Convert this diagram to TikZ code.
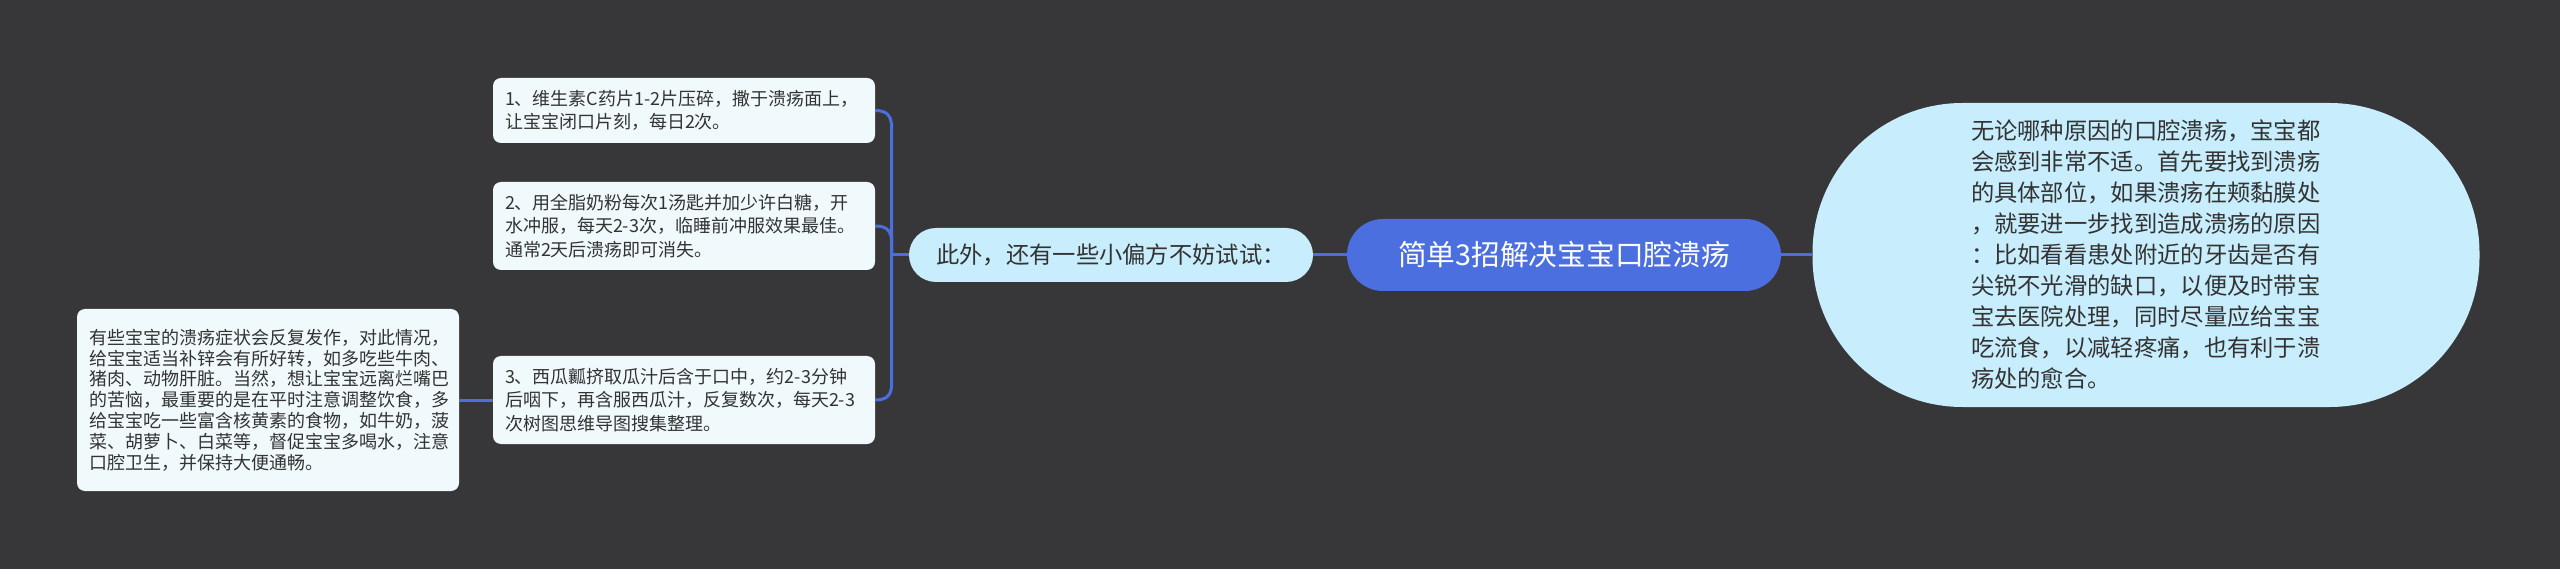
\documentclass[tikz,border=0pt]{standalone}
\usepackage{fontspec}
\newfontfamily\cjk{Noto Sans CJK SC}
\definecolor{bg}{HTML}{373638}
\definecolor{linkblue}{HTML}{4C6FE0}
\definecolor{boxfill}{HTML}{F0FAFD}
\definecolor{lightblue}{HTML}{C8EDFC}
\definecolor{txt}{HTML}{333333}
\begin{document}
\begin{tikzpicture}[x=1pt,y=-1pt,
  link/.style={draw=linkblue, line width=3pt},
  tipbox/.style={fill=boxfill, rounded corners=8pt, inner xsep=12pt, inner ysep=0pt,
    text width=358pt, align=left, text=txt,
    font=\cjk\fontsize{18pt}{23.3pt}\selectfont},
  midnode/.style={fill=lightblue, rounded corners=27pt, minimum width=404pt, minimum height=54pt,
    inner sep=0pt, text=txt, font=\cjk\fontsize{23.3pt}{28pt}\selectfont},
  rootnode/.style={fill=linkblue, rounded corners=36pt, minimum width=434pt, minimum height=72pt,
    inner sep=0pt, text=white, font=\cjk\fontsize{28.7pt}{34pt}\selectfont},
  bignode/.style={fill=lightblue, rounded corners=150pt, minimum width=667pt, minimum height=304pt,
    inner sep=0pt, text width=350pt, align=left, text=txt,
    font=\cjk\fontsize{23.3pt}{31pt}\selectfont}]
\path[fill=bg] (0,0) rectangle (2560,569);

\node[rootnode] (ctr) at (1564,255) {简单3招解决宝宝口腔溃疡};
\node[midnode] (mid) at (1111,255) {此外，还有一些小偏方不妨试试：};
\node[bignode] (rt) at (2146,255) {无论哪种原因的口腔溃疡，宝宝都\\会感到非常不适。首先要找到溃疡\\的具体部位，如果溃疡在颊黏膜处\\，就要进一步找到造成溃疡的原因\\：比如看看患处附近的牙齿是否有\\尖锐不光滑的缺口，以便及时带宝\\宝去医院处理，同时尽量应给宝宝\\吃流食，以减轻疼痛，也有利于溃\\疡处的愈合。};

\node[tipbox, minimum height=65pt] (b1) at (684,110.5) {1、维生素C药片1-2片压碎，撒于溃疡面上，\\让宝宝闭口片刻，每日2次。};
\node[tipbox, minimum height=88pt] (b2) at (684,226) {2、用全脂奶粉每次1汤匙并加少许白糖，开\\水冲服，每天2-3次，临睡前冲服效果最佳。\\通常2天后溃疡即可消失。};
\node[tipbox, minimum height=88pt] (b3) at (684,400) {3、西瓜瓤挤取瓜汁后含于口中，约2-3分钟\\后咽下，再含服西瓜汁，反复数次，每天2-3\\次树图思维导图搜集整理。};
\node[tipbox, minimum height=182pt, font=\cjk\fontsize{18pt}{20.8pt}\selectfont] (lb) at (268,400) {有些宝宝的溃疡症状会反复发作，对此情况，\\给宝宝适当补锌会有所好转，如多吃些牛肉、\\猪肉、动物肝脏。当然，想让宝宝远离烂嘴巴\\的苦恼，最重要的是在平时注意调整饮食，多\\给宝宝吃一些富含核黄素的食物，如牛奶，菠\\菜、胡萝卜、白菜等，督促宝宝多喝水，注意\\口腔卫生，并保持大便通畅。};

\coordinate (hub) at (891.7,255);
\coordinate (j1) at (891.7,128);
\coordinate (j2) at (891.7,243);
\coordinate (j3) at (891.7,383);

\draw[link] (mid.east) -- (ctr.west);
\draw[link] (ctr.east) -- (rt.west);
\draw[link] (mid.west) -- (hub);
\draw[link] (b1.east) .. controls +(12,0) and +(0,-12) .. (j1) -- (hub);
\draw[link] (b2.east) .. controls +(12,0) and +(0,-12) .. (j2) -- (hub);
\draw[link] (b3.east) .. controls +(12,0) and +(0,12) .. (j3) -- (hub);
\draw[link] (lb.east) -- (b3.west);
\end{tikzpicture}
\end{document}
